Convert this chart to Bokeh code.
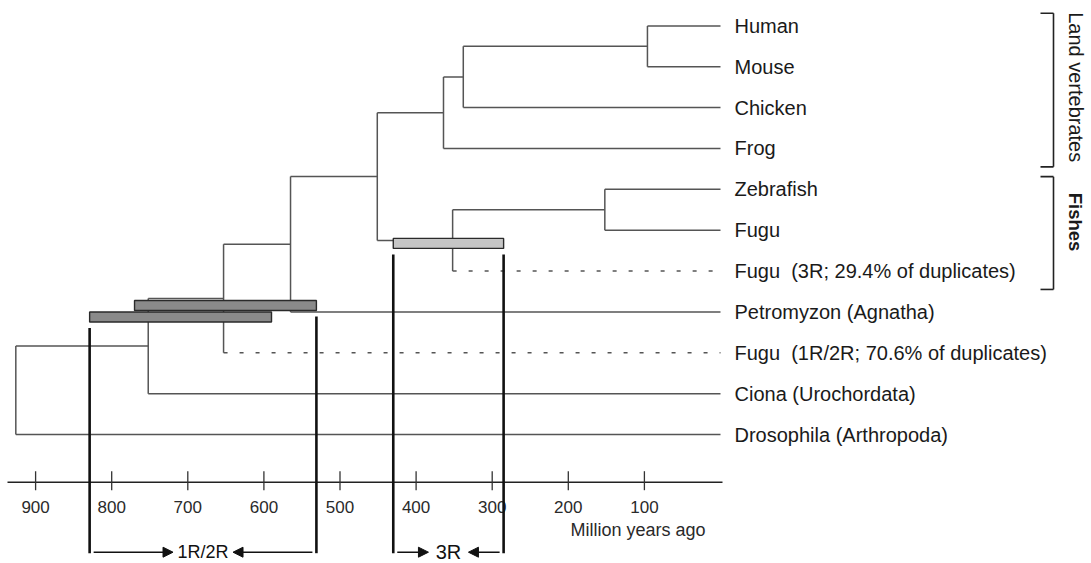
import math
from bokeh.plotting import figure
from bokeh.models import Range1d, Arrow, NormalHead
from bokeh.core.properties import value
from bokeh.embed import file_html
from bokeh.resources import INLINE

# ---------------- data ----------------
leaf_keys = ["human", "mouse", "chicken", "frog", "zebrafish", "fugu", "fugu_3r",
             "petromyzon", "fugu_1r2r", "ciona", "drosophila"]
leaf_labels = ["Human", "Mouse", "Chicken", "Frog", "Zebrafish", "Fugu",
               "Fugu\u00a0 (3R; 29.4% of duplicates)", "Petromyzon (Agnatha)",
               "Fugu\u00a0 (1R/2R; 70.6% of duplicates)", "Ciona (Urochordata)",
               "Drosophila (Arthropoda)"]
leaf_dashed = [False, False, False, False, False, False, True, False, True, False, False]

node_keys = ["human_mouse", "amniotes", "tetrapods", "zebrafish_fugu", "teleosts",
             "gnathostomes", "vertebrates", "fugu_1r2r_split", "chordates", "root"]
node_ages = [96, 338, 364, 152, 352, 451, 565, 653, 752, 926]   # million years ago
node_children = [["human", "mouse"], ["human_mouse", "chicken"], ["amniotes", "frog"],
                 ["zebrafish", "fugu"], ["zebrafish_fugu", "fugu_3r"],
                 ["tetrapods", "teleosts"], ["gnathostomes", "petromyzon"],
                 ["vertebrates", "fugu_1r2r"], ["fugu_1r2r_split", "ciona"],
                 ["chordates", "drosophila"]]

dup_event = ["1R/2R", "1R/2R", "3R"]
dup_oldest = [770, 829, 430]
dup_youngest = [531, 590, 285]

tick_values = [900, 800, 700, 600, 500, 400, 300, 200, 100]
tick_labels = ["900", "800", "700", "600", "500", "400", "300", "200", "100"]
axis_title = "Million years ago"

groups = ["Land vertebrates", "Fishes"]
group_first = ["human", "zebrafish"]
group_last = ["frog", "fugu_3r"]

# ---------------- layout ----------------
W, H = 1091, 563
PX_PER_MY = 0.761
PX_PER_ROW = 40.86
X0_PX = 720.0   # present day
Y0_PX = 25.4    # first row


def mx(px):
    return px / PX_PER_MY


def my(px):
    return px / PX_PER_ROW


FONT = value("Liberation Sans")
TREE_COL = "#555555"
INK = "#1a1a1a"

x_start = X0_PX / PX_PER_MY
p = figure(width=W, height=H, output_backend="svg", toolbar_location=None,
           x_axis_type=None, y_axis_type=None, min_border=0,
           x_range=Range1d(x_start, (X0_PX - W) / PX_PER_MY),
           y_range=Range1d((H - Y0_PX) / PX_PER_ROW, -Y0_PX / PX_PER_ROW))
p.outline_line_color = None
p.grid.visible = False
p.background_fill_color = "white"

# tree layout
pos = {}
for i, k in enumerate(leaf_keys):
    pos[k] = (0.0, float(i))
for k, age, ch in zip(node_keys, node_ages, node_children):
    ys = [pos[c][1] for c in ch]
    pos[k] = (float(age), (min(ys) + max(ys)) / 2.0)

dashed_leaf = dict(zip(leaf_keys, leaf_dashed))
sx0, sy0, sx1, sy1 = [], [], [], []
dx0, dy0, dx1, dy1 = [], [], [], []
for k, ch in zip(node_keys, node_children):
    t, _ = pos[k]
    ys = [pos[c][1] for c in ch]
    sx0.append(t); sy0.append(min(ys)); sx1.append(t); sy1.append(max(ys))
    for c in ch:
        ct, cy = pos[c]
        if dashed_leaf.get(c, False):
            dx0.append(t); dy0.append(cy); dx1.append(ct); dy1.append(cy)
        else:
            sx0.append(t); sy0.append(cy); sx1.append(ct); sy1.append(cy)

p.segment(x0=sx0, y0=sy0, x1=sx1, y1=sy1, line_color=TREE_COL, line_width=1.5)
p.segment(x0=dx0, y0=dy0, x1=dx1, y1=dy1, line_color=TREE_COL, line_width=1.5,
          line_dash="4 12")

# leaf labels
p.text(x=[0.0] * len(leaf_keys), y=list(range(len(leaf_keys))), text=leaf_labels,
       x_offset=14, text_font=FONT, text_font_size="20px", text_color=INK,
       text_baseline="middle", text_align="left")

# duplication bars
BAR_H = my(10)
event_anchor = {"3R": ("teleosts", my(3)), "1R/2R": ("fugu_1r2r_split", my(7))}
bar_center = []
seen = {}
for ev in dup_event:
    node, off = event_anchor[ev]
    n = seen.get(ev, 0)
    bar_center.append(pos[node][1] + off + n * my(11.5))
    seen[ev] = n + 1
bar_fill = ["#8a8a8a" if ev != "3R" else "#c6c6c6" for ev in dup_event]
p.quad(left=dup_oldest, right=dup_youngest,
       top=[c - BAR_H / 2 for c in bar_center],
       bottom=[c + BAR_H / 2 for c in bar_center],
       fill_color=bar_fill, line_color="#2a2a2a", line_width=1.4)

# time axis
last_row = float(len(leaf_keys) - 1)
axis_y = last_row + my(47.7)
p.segment(x0=[x_start - mx(7)], y0=[axis_y], x1=[-mx(2)], y1=[axis_y],
          line_color="#222222", line_width=1.5)
p.segment(x0=tick_values, y0=[axis_y - my(11)] * len(tick_values),
          x1=tick_values, y1=[axis_y + my(8)] * len(tick_values),
          line_color="#333333", line_width=1.3)
p.text(x=tick_values, y=[axis_y + my(25)] * len(tick_values), text=tick_labels,
       text_font=FONT, text_font_size="17px", text_color="#2a2a2a",
       text_align="center", text_baseline="middle")
p.text(x=[0.0], y=[axis_y + my(48)], text=[axis_title], x_offset=-15,
       text_font=FONT, text_font_size="18px", text_color="#2a2a2a",
       text_align="right", text_baseline="middle")

# duplication windows: thick lines + arrows
arrow_y = axis_y + my(70)
events = []
for ev in dup_event:
    if ev not in events:
        events.append(ev)
label_half = {"1R/2R": 25, "3R": 15}
label_size = {"1R/2R": "18px", "3R": "20px"}
for ev in events:
    idx = [i for i, e in enumerate(dup_event) if e == ev]
    i_old = max(idx, key=lambda i: dup_oldest[i])
    i_young = min(idx, key=lambda i: dup_youngest[i])
    t_old, t_young = dup_oldest[i_old], dup_youngest[i_young]
    y_old = bar_center[i_old] + BAR_H / 2 + my(6)
    y_young = bar_center[i_young] + BAR_H / 2 + my(6)
    p.segment(x0=[t_old, t_young], y0=[y_old, y_young],
              x1=[t_old, t_young], y1=[arrow_y + my(1), arrow_y + my(1)],
              line_color="#111111", line_width=2.6)
    tc = (t_old + t_young) / 2.0
    gap = mx(label_half[ev] + 5)
    for t_from, sign in ((t_old - mx(4), 1), (t_young + mx(4), -1)):
        p.add_layout(Arrow(end=NormalHead(size=10, fill_color="#111111",
                                          line_color="#111111"),
                           x_start=t_from, y_start=arrow_y,
                           x_end=tc + sign * gap, y_end=arrow_y,
                           line_color="#111111", line_width=1.6))
    p.text(x=[tc], y=[arrow_y], text=[ev], text_font=FONT,
           text_font_size=label_size[ev], text_color="#111111",
           text_align="center", text_baseline="middle")

# group brackets
bx = -mx(333)
btick = mx(13)
row_of = {k: i for i, k in enumerate(leaf_keys)}
label_shift = {"Land vertebrates": 0.0, "Fishes": -0.2}
label_weight = {"Land vertebrates": "normal", "Fishes": "bold"}
label_fsize = {"Land vertebrates": "20px", "Fishes": "18.5px"}
for g, a, b in zip(groups, group_first, group_last):
    top = row_of[a] - 0.31
    bot = row_of[b] + 0.45
    p.segment(x0=[bx, bx + btick, bx + btick], y0=[top, top, bot],
              x1=[bx, bx, bx], y1=[bot, top, bot],
              line_color="#222222", line_width=1.6)
    p.text(x=[-mx(355)], y=[(row_of[a] + row_of[b]) / 2.0 + label_shift[g]], text=[g],
           angle=-math.pi / 2, text_font=FONT, text_font_size=label_fsize[g],
           text_font_style=label_weight[g], text_color=INK,
           text_align="center", text_baseline="middle")

open("out.html", "w").write(file_html(p, INLINE))
